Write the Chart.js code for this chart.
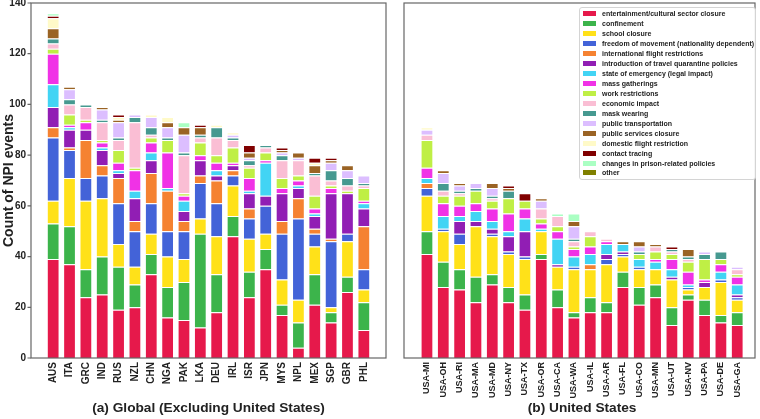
<!DOCTYPE html>
<html>
<head>
<meta charset="utf-8">
<title>NPI events</title>
<script src="https://cdn.jsdelivr.net/npm/chart.js@4.4.1/dist/chart.umd.min.js"></script>
<style>
  html, body { margin: 0; padding: 0; background: #fff; }
  body { width: 760px; height: 419px; position: relative; overflow: hidden; }
  .chart-frame { position: absolute; top: 0; height: 419px; }
  #globalFrame { left: 0; width: 392px; }
  #usFrame { left: 392px; width: 368px; }
  .chart-legend-list {
    position: absolute; left: 579px; top: 7px; width: 175px; padding: 1px 0;
    border: 1px solid #d4d4d4; border-radius: 3px; background: rgba(255, 255, 255, 0.9);
    font: bold 7px "Liberation Sans", Arial, sans-serif; color: #222; z-index: 2;
  }
  .chart-legend-item { display: flex; align-items: center; height: 9.94px; white-space: nowrap; }
  .chart-legend-swatch { width: 13px; height: 5px; margin: 0 6px 0 3px; flex: none; }
</style>
</head>
<body>
<div class="chart-frame" id="globalFrame"><canvas id="globalChart"></canvas></div>
<div class="chart-frame" id="usFrame"><canvas id="usChart"></canvas></div>
<script>
const categories = [
  "entertainment/cultural sector closure",
  "confinement",
  "school closure",
  "freedom of movement (nationality dependent)",
  "international flight restrictions",
  "introduction of travel quarantine policies",
  "state of emergency (legal impact)",
  "mass gatherings",
  "work restrictions",
  "economic impact",
  "mask wearing",
  "public transportation",
  "public services closure",
  "domestic flight restriction",
  "contact tracing",
  "changes in prison-related policies",
  "other"
];

const categoryColors = [
  "#e6194b", "#3cb44b", "#ffe119", "#4363d8", "#f58231", "#911eb4",
  "#42d4f4", "#f032e6", "#bfef45", "#fabed4", "#469990", "#dcbeff",
  "#9a6324", "#fffac8", "#800000", "#aaffc3", "#808000"
];

const globalCountries = [
  "AUS", "ITA", "GRC", "IND", "RUS", "NZL", "CHN", "NGA", "PAK", "LKA",
  "DEU", "IRL", "ISR", "JPN", "MYS", "NPL", "MEX", "SGP", "GBR", "PHL"
];

// one row per country, columns in the order of `categories`
const globalCounts = [
  [39, 14, 9, 25, 4, 8, 9, 12, 2, 2, 2, 0, 4, 4, 1, 1, 0],
  [37, 15, 19, 11, 1, 7, 1, 1, 4, 4, 2, 4, 1, 0, 0, 0, 0],
  [24, 11, 27, 9, 15, 4, 0, 3, 1, 5, 1, 0, 0, 0, 0, 0, 0],
  [25, 15, 23, 9, 4, 6, 1, 2, 1, 7, 1, 4, 1, 0, 0, 0, 0],
  [19, 17, 9, 16, 10, 2, 1, 3, 5, 4, 1, 6, 1, 1, 1, 0, 0],
  [20, 9, 7, 14, 4, 9, 3, 8, 1, 18, 2, 1, 0, 0, 0, 0, 0],
  [33, 8, 8, 12, 12, 5, 3, 4, 2, 1, 3, 4, 0, 1, 0, 0, 0],
  [16, 12, 12, 10, 16, 0, 1, 14, 5, 0, 1, 4, 2, 2, 0, 0, 0],
  [15, 15, 9, 11, 4, 4, 4, 2, 1, 15, 1, 7, 3, 0, 0, 2, 0],
  [12, 37, 6, 14, 3, 6, 0, 2, 5, 2, 1, 0, 3, 0, 1, 0, 0],
  [18, 15, 15, 13, 9, 2, 2, 3, 3, 7, 4, 0, 0, 1, 0, 0, 0],
  [48, 8, 12, 4, 2, 2, 0, 1, 6, 3, 1, 1, 0, 1, 0, 0, 0],
  [24, 10, 13, 8, 4, 6, 1, 5, 4, 1, 2, 1, 2, 0, 3, 0, 0],
  [35, 8, 6, 11, 0, 4, 13, 1, 3, 2, 1, 0, 0, 0, 0, 0, 0],
  [17, 4, 10, 18, 5, 11, 0, 2, 4, 7, 2, 1, 1, 0, 1, 0, 0],
  [4, 10, 9, 32, 8, 4, 1, 2, 2, 6, 0, 1, 2, 0, 0, 0, 0],
  [21, 12, 11, 5, 2, 5, 1, 2, 5, 8, 1, 0, 3, 1, 2, 0, 0],
  [14, 4, 2, 26, 1, 18, 0, 2, 1, 2, 4, 3, 1, 0, 1, 0, 0],
  [26, 6, 14, 3, 0, 16, 0, 0, 1, 2, 3, 3, 2, 0, 0, 0, 0],
  [11, 11, 5, 8, 17, 7, 2, 1, 5, 1, 1, 3, 0, 0, 0, 0, 0]
];

const usStates = [
  "USA-MI", "USA-OH", "USA-RI", "USA-MA", "USA-MD", "USA-NY", "USA-TX", "USA-OR", "USA-CA", "USA-WA",
  "USA-IL", "USA-AR", "USA-FL", "USA-CO", "USA-MN", "USA-UT", "USA-NV", "USA-PA", "USA-DE", "USA-GA"
];

const usCounts = [
  [41, 9, 14, 3, 2, 0, 2, 4, 11, 2, 0, 2, 0, 1, 0, 0, 0],
  [28, 10, 12, 1, 0, 0, 5, 5, 3, 2, 3, 4, 1, 0, 0, 0, 0],
  [27, 8, 10, 4, 0, 5, 2, 4, 4, 1, 1, 2, 1, 0, 0, 0, 0],
  [22, 10, 20, 0, 0, 2, 4, 3, 5, 0, 1, 2, 0, 0, 0, 0, 0],
  [29, 4, 15, 1, 0, 2, 3, 5, 3, 1, 1, 3, 2, 0, 0, 0, 0],
  [22, 6, 13, 1, 0, 6, 2, 7, 6, 0, 3, 0, 1, 0, 1, 0, 0],
  [19, 6, 14, 1, 0, 10, 5, 4, 3, 0, 0, 0, 0, 0, 3, 0, 0],
  [39, 2, 9, 0, 0, 0, 1, 2, 2, 4, 0, 3, 1, 0, 0, 0, 0],
  [20, 7, 9, 0, 0, 1, 10, 3, 2, 4, 0, 0, 0, 0, 0, 1, 0],
  [16, 2, 17, 1, 0, 0, 4, 3, 1, 2, 1, 5, 2, 0, 0, 3, 0],
  [18, 6, 11, 0, 2, 0, 4, 3, 4, 2, 0, 0, 0, 0, 0, 0, 0],
  [18, 4, 15, 2, 0, 2, 4, 1, 0, 1, 0, 0, 0, 0, 0, 0, 0],
  [28, 6, 6, 1, 0, 1, 3, 0, 0, 0, 0, 0, 1, 0, 0, 0, 0],
  [21, 7, 7, 1, 0, 0, 3, 0, 2, 0, 1, 2, 2, 0, 0, 0, 0],
  [24, 5, 6, 0, 0, 0, 3, 1, 3, 2, 0, 0, 1, 0, 0, 0, 0],
  [13, 7, 11, 0, 0, 1, 3, 4, 2, 1, 1, 0, 0, 0, 1, 0, 0],
  [23, 2, 2, 1, 0, 0, 1, 5, 4, 1, 1, 0, 3, 0, 0, 0, 0],
  [17, 6, 5, 0, 0, 2, 0, 1, 8, 0, 2, 1, 0, 0, 0, 0, 0],
  [14, 3, 13, 1, 0, 0, 3, 3, 2, 0, 3, 0, 0, 0, 0, 0, 0],
  [13, 5, 5, 1, 0, 1, 4, 3, 1, 2, 0, 1, 0, 0, 0, 0, 0]
];

const yMax = 140;
const yStep = 20;
const fontFamily = "'Liberation Sans', Arial, Helvetica, sans-serif";
const textColor = "#222";

// box around the plot, a bit wider than the bar area (matplotlib-like margins)
const framePlugin = {
  id: "framePlugin",
  afterDraw(chart, args, opts) {
    const { ctx, chartArea } = chart;
    const left = chartArea.left - opts.left;
    const right = chartArea.right + opts.right;

    ctx.save();
    ctx.strokeStyle = "#666";
    ctx.lineWidth = 1.2;
    ctx.strokeRect(left, chartArea.top, right - left, chartArea.bottom - chartArea.top);

    if (opts.yTicks) {
      const yScale = chart.scales.y;
      ctx.beginPath();
      yScale.ticks.forEach((tick) => {
        const y = yScale.getPixelForValue(tick.value);
        ctx.moveTo(left - 3.5, y);
        ctx.lineTo(left, y);
      });
      ctx.stroke();
    }
    ctx.restore();
  }
};

function buildDatasets(rows) {
  return categories.map((name, catIndex) => ({
    label: name,
    data: rows.map((row) => row[catIndex]),
    backgroundColor: categoryColors[catIndex],
    borderColor: "#ffffff",
    borderWidth: 1,
    categoryPercentage: 1,
    barPercentage: 0.78
  }));
}

function renderPanel(canvasId, labels, rows, panel) {
  new Chart(document.getElementById(canvasId), {
    type: "bar",
    data: { labels, datasets: buildDatasets(rows) },
    options: {
      responsive: true,
      maintainAspectRatio: false,
      animation: false,
      layout: { padding: panel.padding },
      plugins: {
        legend: { display: false },
        tooltip: { enabled: false },
        framePlugin: { left: panel.frameLeft, right: panel.frameRight, yTicks: panel.showY }
      },
      scales: {
        x: {
          stacked: true,
          grid: { display: false, drawTicks: false },
          border: { display: false },
          ticks: {
            autoSkip: false,
            minRotation: 90,
            maxRotation: 90,
            padding: 4,
            color: textColor,
            font: { family: fontFamily, size: panel.tickSize, weight: "bold" }
          },
          title: {
            display: true,
            text: panel.title,
            color: textColor,
            padding: { top: 0, bottom: 3 },
            font: { family: fontFamily, size: 13.7, weight: "bold" }
          },
          afterFit(scale) {
            scale.height = 61;
            scale.paddingLeft = 0;
            scale.paddingRight = 0;
          }
        },
        y: {
          stacked: true,
          display: panel.showY,
          min: 0,
          max: yMax,
          grid: { display: false, drawTicks: false },
          border: { display: false },
          ticks: {
            stepSize: yStep,
            padding: 19,
            color: textColor,
            font: { family: fontFamily, size: 10, weight: "bold" }
          },
          title: {
            display: true,
            text: "Count of NPI events",
            color: textColor,
            padding: { top: 1, bottom: 0 },
            font: { family: fontFamily, size: 14, weight: "bold" }
          },
          afterFit(scale) {
            if (!scale.options.display) return;
            scale.width = 45;
            scale.paddingTop = 0;
            scale.paddingBottom = 0;
          }
        }
      }
    },
    plugins: [framePlugin]
  });
}

function renderLegend() {
  const legend = document.createElement("div");
  legend.className = "chart-legend-list";
  categories.forEach((name, index) => {
    const item = document.createElement("div");
    const swatch = document.createElement("span");
    const text = document.createElement("span");
    item.className = "chart-legend-item";
    swatch.className = "chart-legend-swatch";
    swatch.style.backgroundColor = categoryColors[index];
    text.textContent = name;
    item.append(swatch, text);
    legend.append(item);
  });
  document.body.append(legend);
}

renderPanel("globalChart", globalCountries, globalCounts, {
  title: "(a) Global (Excluding United States)",
  showY: true,
  tickSize: 10,
  padding: { top: 3, right: 20, bottom: 0, left: 0 },
  frameLeft: 14,
  frameRight: 14
});

renderPanel("usChart", usStates, usCounts, {
  title: "(b) United States",
  showY: false,
  tickSize: 9,
  padding: { top: 3, right: 14.6, bottom: 0, left: 26.8 },
  frameLeft: 14.8,
  frameRight: 9.6
});

renderLegend();
</script>
</body>
</html>
